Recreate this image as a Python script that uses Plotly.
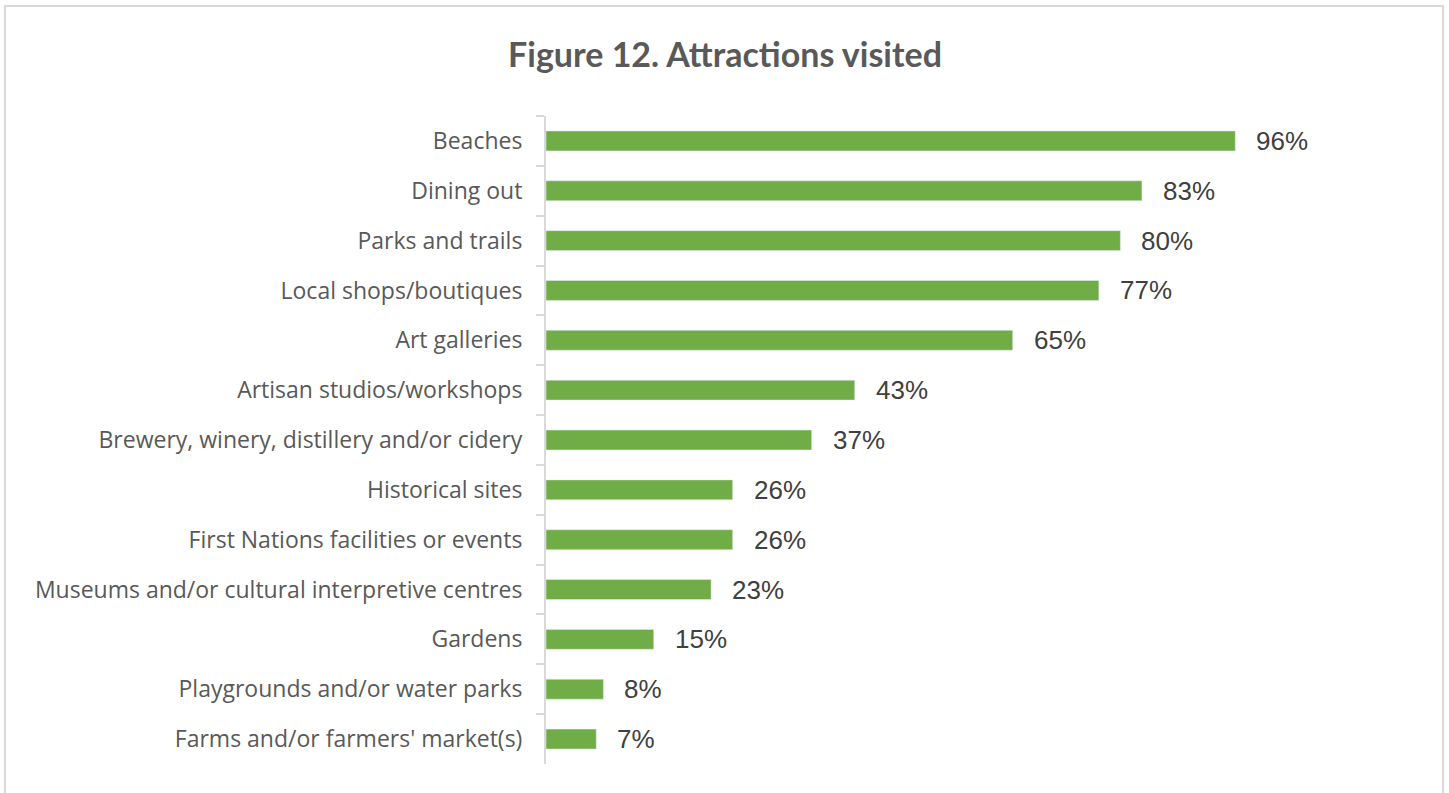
import plotly.graph_objects as go

categories = [
    "Beaches",
    "Dining out",
    "Parks and trails",
    "Local shops/boutiques",
    "Art galleries",
    "Artisan studios/workshops",
    "Brewery, winery, distillery and/or cidery",
    "Historical sites",
    "First Nations facilities or events",
    "Museums and/or cultural interpretive centres",
    "Gardens",
    "Playgrounds and/or water parks",
    "Farms and/or farmers' market(s)",
]
values = [96, 83, 80, 77, 65, 43, 37, 26, 26, 23, 15, 8, 7]
labels = [f"{v}%" for v in values]

W, H = 1449, 793
L, R, T, B = 546, 29, 116, 29
pw = W - L - R
ph = H - T - B
px_per_pct = 7.18
xmax = pw / px_per_pct

fig = go.Figure()
fig.add_trace(go.Bar(
    y=categories,
    x=values,
    orientation="h",
    marker=dict(color="#70AD47"),
    width=0.4,
    hoverinfo="skip",
))

for c, v, t in zip(categories, values, labels):
    fig.add_annotation(
        x=v, y=c, text=t, showarrow=False, xanchor="left", xshift=19,
        font=dict(family="Liberation Sans, Arial", size=26, color="#404040"),
    )

# outer chart border
fig.add_shape(
    type="rect", xref="paper", yref="paper",
    x0=(5 - L) / pw, x1=(1443 - L) / pw,
    y0=(H - 800 - B) / ph, y1=(H - 6 - B) / ph,
    line=dict(color="#D9D9D9", width=2), layer="below",
)

fig.update_layout(
    width=W, height=H,
    margin=dict(l=L, r=R, t=T, b=B, pad=0),
    paper_bgcolor="white", plot_bgcolor="white",
    showlegend=False,
    title=dict(
        text="<b>Figure 12. Attractions visited</b>",
        x=725 / W, xanchor="center", xref="container", y=1 - 55 / H, yanchor="middle",
        font=dict(family="Lato", size=34, color="#595959"),
    ),
    xaxis=dict(range=[0, xmax], visible=False, fixedrange=True),
    yaxis=dict(
        autorange="reversed",
        showline=True, linecolor="#D9D9D9", linewidth=2,
        ticks="outside", tickson="boundaries", ticklen=8, tickcolor="#D9D9D9", tickwidth=2,
        ticklabelstandoff=17,
        tickfont=dict(family="Open Sans", size=23, color="#595959"),
        showgrid=False, zeroline=False, fixedrange=True,
    ),
)

fig.write_html("out.html", config={"displayModeBar": False},
               post_script="document.body.style.margin='0';")
